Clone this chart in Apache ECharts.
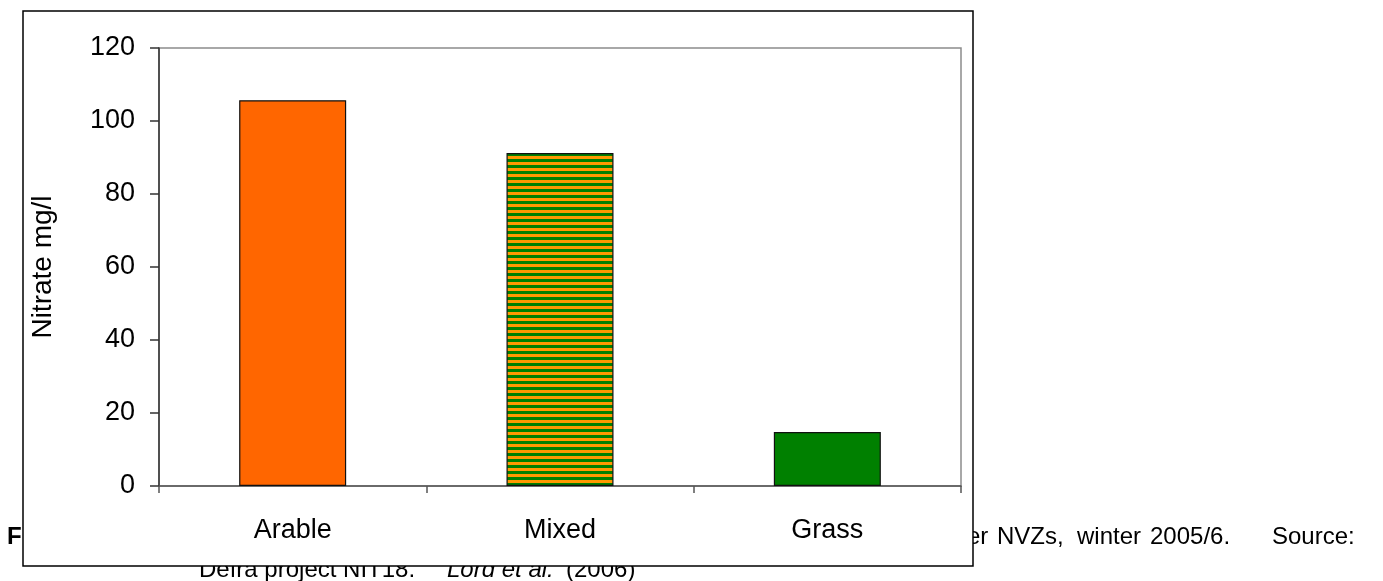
<!DOCTYPE html>
<html>
<head>
<meta charset="utf-8">
<script src="https://cdn.jsdelivr.net/npm/echarts@6/dist/echarts.min.js"></script>
<style>
html,body{margin:0;padding:0;background:#fff;}
#chart{width:1383px;height:581px;}
</style>
</head>
<body>
<div id="chart"></div>
<script>
var categories = ['Arable', 'Mixed', 'Grass'];
var nitrateValues = [105.7, 91.2, 14.8];
var yAxisTitle = 'Nitrate mg/l';
var captionLine1Start = 'F';
var captionLine1Words = ['er', 'NVZs,', 'winter', '2005/6.', 'Source:'];
var captionLine2Parts = ['Defra project NIT18.', 'Lord et al.', '(2006)'];

var FONT = '"Liberation Sans", Arial, sans-serif';

// stripe pattern for the "Mixed" bar
var pat = document.createElement('canvas');
pat.width = 6; pat.height = 6;
var pc = pat.getContext('2d');
pc.fillStyle = '#FF9900'; pc.fillRect(0, 0, 6, 3);
pc.fillStyle = '#008000'; pc.fillRect(0, 3, 6, 3);

var barFills = ['#FF6600', {image: pat, repeat: 'repeat'}, '#008000'];

var seriesData = nitrateValues.map(function (v, i) {
  return {value: v, itemStyle: {color: barFills[i]}};
});

// caption layout (positions only)
var line1X = [967, 997, 1077, 1150, 1272];
var line2X = [199, 447, 566];
var line2Style = ['normal', 'italic', 'normal'];

var graphics = [];
graphics.push({type: 'text', z: -10, left: 7, top: 525,
  style: {text: captionLine1Start, font: 'bold 24px ' + FONT, fill: '#000'}});
captionLine1Words.forEach(function (w, i) {
  graphics.push({type: 'text', z: -10, left: line1X[i], top: 525,
    style: {text: w, font: '24px ' + FONT, fill: '#000'}});
});
captionLine2Parts.forEach(function (w, i) {
  graphics.push({type: 'text', z: -10, left: line2X[i], top: 558,
    style: {text: w, font: line2Style[i] + ' 24px ' + FONT, fill: '#000'}});
});
graphics.push({type: 'rect', z: -5, shape: {x: 23, y: 11, width: 950, height: 555},
  style: {fill: '#fff', stroke: '#000', lineWidth: 1.5}});

var chart = echarts.init(document.getElementById('chart'), null, {renderer: 'canvas'});
chart.setOption({
  animation: false,
  backgroundColor: '#fff',
  grid: {
    left: 159, right: 422, top: 48, bottom: 95,
    show: true, borderColor: '#8c8c8c', borderWidth: 1.5, backgroundColor: 'transparent'
  },
  xAxis: {
    type: 'category',
    data: categories,
    boundaryGap: true,
    axisLine: {lineStyle: {color: '#555', width: 1.5}},
    axisTick: {show: true, length: 7, lineStyle: {color: '#555', width: 1.5}},
    axisLabel: {color: '#000', fontSize: 27, fontFamily: FONT, margin: 31}
  },
  yAxis: {
    type: 'value',
    min: 0, max: 120, interval: 20,
    name: yAxisTitle,
    nameLocation: 'middle',
    nameRotate: 90,
    nameGap: 102,
    nameTextStyle: {color: '#000', fontSize: 28, fontFamily: FONT},
    axisLine: {show: true, lineStyle: {color: '#333', width: 1.5}},
    axisTick: {show: true, length: 9, lineStyle: {color: '#333', width: 1.5}},
    axisLabel: {color: '#000', fontSize: 27, fontFamily: FONT, margin: 24},
    splitLine: {show: false}
  },
  series: [{
    type: 'bar',
    data: seriesData,
    barWidth: 107,
    itemStyle: {borderColor: '#111', borderWidth: 1.2}
  }],
  graphic: graphics
});
</script>
</body>
</html>
